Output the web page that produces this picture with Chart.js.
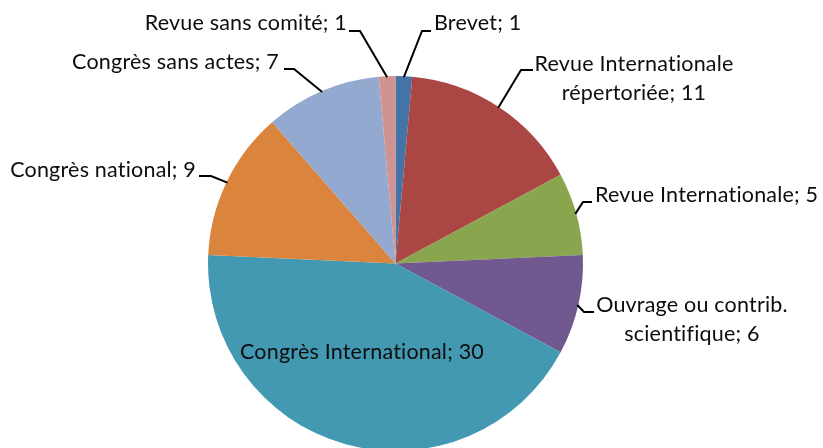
<!DOCTYPE html>
<html>
<head>
<meta charset="utf-8">
<script src="https://cdn.jsdelivr.net/npm/chart.js@4.4.0/dist/chart.umd.min.js"></script>
<style>
  html, body { margin: 0; padding: 0; background: #fff; overflow: hidden; }
  #pie { display: block; }
</style>
</head>
<body>
<canvas id="pie" width="823" height="452"></canvas>
<script>
  const categories = [
    "Brevet",
    "Revue Internationale répertoriée",
    "Revue Internationale",
    "Ouvrage ou contrib. scientifique",
    "Congrès International",
    "Congrès national",
    "Congrès sans actes",
    "Revue sans comité"
  ];
  const counts = [1, 11, 5, 6, 30, 9, 7, 1];
  const sliceColors = ["#4572a7", "#aa4643", "#89a54e", "#71588f", "#4399b1", "#db843d", "#93a9cf", "#d19392"];

  // label boxes: text lines, anchor point, alignment, and leader elbow/attach
  const labelLayout = [
    { lines: ["Brevet; 1"], x: 434, y: 23, align: "left", attach: [431, 31], elbow: [422, 31] },
    { lines: ["Revue Internationale", "répertoriée; 11"], x: 634, y: 64, align: "center", attach: [533, 70], elbow: [521, 70] },
    { lines: ["Revue Internationale; 5"], x: 595, y: 195, align: "left", attach: [592, 202], elbow: [583, 202] },
    { lines: ["Ouvrage ou contrib.", "scientifique; 6"], x: 692, y: 305, align: "center", attach: [594, 312], elbow: [584, 312] },
    { lines: ["Congrès International; 30"], x: 362, y: 352, align: "center" },
    { lines: ["Congrès national; 9"], x: 196, y: 170, align: "right", attach: [199, 176], elbow: [211, 176] },
    { lines: ["Congrès sans actes; 7"], x: 279, y: 62, align: "right", attach: [284, 69], elbow: [294, 69] },
    { lines: ["Revue sans comité; 1"], x: 347, y: 23, align: "right", attach: [349, 31], elbow: [360, 31] }
  ];

  const labelFont = "21.5px Lato, 'Open Sans', sans-serif";
  const lineGap = 29;

  const sliceLabels = {
    id: "sliceLabels",
    afterDatasetsDraw(chart) {
      const ctx = chart.ctx;
      const arcs = chart.getDatasetMeta(0).data;
      ctx.save();
      arcs.forEach((arc, i) => {
        const layout = labelLayout[i];
        if (!layout) return;
        if (layout.attach) {
          const mid = (arc.startAngle + arc.endAngle) / 2;
          const r = arc.outerRadius - 1;
          const px = arc.x + Math.cos(mid) * r;
          const py = arc.y + Math.sin(mid) * r;
          ctx.strokeStyle = "#000";
          ctx.lineWidth = 2;
          ctx.beginPath();
          ctx.moveTo(px, py);
          ctx.lineTo(layout.elbow[0], layout.elbow[1]);
          ctx.lineTo(layout.attach[0], layout.attach[1]);
          ctx.stroke();
        }
        ctx.fillStyle = "#0d0d0d";
        ctx.font = labelFont;
        // a little tracking keeps Lato from joining "ti" into a ligature
        ctx.letterSpacing = "0.2px";
        ctx.textAlign = layout.align;
        ctx.textBaseline = "middle";
        layout.lines.forEach((line, k) => {
          ctx.fillText(line, layout.x, layout.y + k * lineGap);
        });
      });
      ctx.restore();
    }
  };

  new Chart(document.getElementById("pie"), {
    type: "pie",
    data: {
      labels: categories,
      datasets: [{
        data: counts,
        backgroundColor: sliceColors,
        borderWidth: 0
      }]
    },
    options: {
      responsive: false,
      animation: false,
      layout: { padding: { left: 208, top: 76, right: 240, bottom: 1 } },
      plugins: {
        legend: { display: false },
        tooltip: { enabled: false }
      }
    },
    plugins: [sliceLabels]
  });
</script>
</body>
</html>
